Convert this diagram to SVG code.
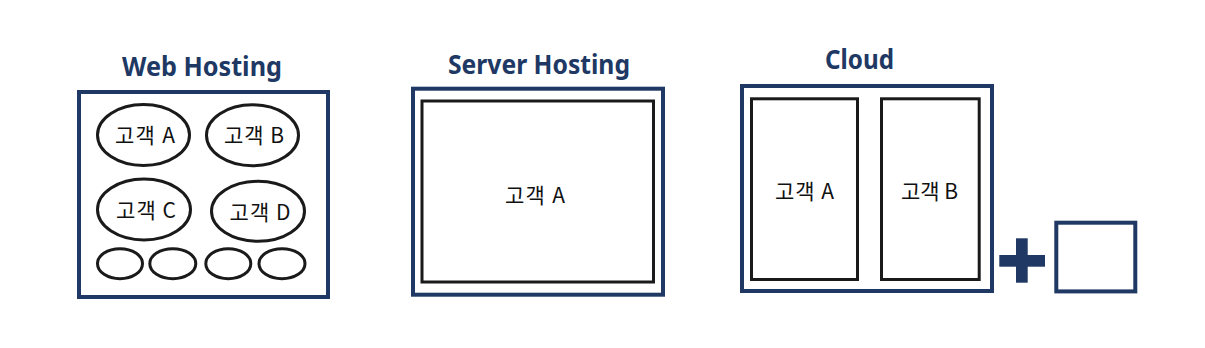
<svg xmlns="http://www.w3.org/2000/svg" width="1205" height="348" viewBox="0 0 1205 348">
<style>
.title{font-family:"Noto Sans","Liberation Sans",sans-serif;font-weight:bold;font-size:26px;fill:#203864;text-anchor:middle}
.lbl{font-family:"Noto Sans CJK KR","Noto Sans",sans-serif;font-size:21px;fill:#111;text-anchor:middle}
.outer{fill:#fff;stroke:#203864;stroke-width:4}
.inner{fill:#fff;stroke:#1a1a1a;stroke-width:3}
</style>
<rect width="1205" height="348" fill="#fff"/>
<g id="web-hosting">
<text class="title" x="202" y="76" textLength="160" lengthAdjust="spacingAndGlyphs">Web Hosting</text>
<rect class="outer" x="79" y="92" width="249" height="205"/>
<g id="web-a"><ellipse class="inner" cx="143.5" cy="135" rx="46" ry="30.5"/><text class="lbl" x="145" y="143" textLength="60" lengthAdjust="spacing">고객 A</text></g>
<g id="web-b"><ellipse class="inner" cx="252.5" cy="135.3" rx="46" ry="30.5"/><text class="lbl" x="254" y="143" textLength="60" lengthAdjust="spacing">고객 B</text></g>
<g id="web-c"><ellipse class="inner" cx="144" cy="209.5" rx="46.5" ry="30.5"/><text class="lbl" x="146" y="218" textLength="60" lengthAdjust="spacing">고객 C</text></g>
<g id="web-d"><ellipse class="inner" cx="258" cy="211.3" rx="46.5" ry="30"/><text class="lbl" x="260" y="220" textLength="61" lengthAdjust="spacing">고객 D</text></g>
<g id="web-e1"><ellipse class="inner" cx="120" cy="263.7" rx="22.5" ry="15"/></g>
<g id="web-e2"><ellipse class="inner" cx="172.8" cy="263.7" rx="23" ry="15"/></g>
<g id="web-e3"><ellipse class="inner" cx="228.3" cy="263.7" rx="22.5" ry="15"/></g>
<g id="web-e4"><ellipse class="inner" cx="282" cy="263.7" rx="23" ry="15"/></g>
</g>
<g id="server-hosting">
<text class="title" x="539" y="74" textLength="182" lengthAdjust="spacingAndGlyphs">Server Hosting</text>
<rect class="outer" x="413" y="88.7" width="250" height="206"/>
<g id="server-a"><rect class="inner" x="422" y="101" width="231.5" height="181"/><text class="lbl" x="535" y="203" textLength="60" lengthAdjust="spacing">고객 A</text></g>
</g>
<g id="cloud">
<text class="title" x="859.5" y="69" textLength="69" lengthAdjust="spacingAndGlyphs">Cloud</text>
<rect class="outer" x="742" y="86" width="250" height="205"/>
<g id="cloud-a"><rect class="inner" x="751.5" y="98.8" width="106" height="180.7"/><text class="lbl" x="804.5" y="199" textLength="59" lengthAdjust="spacing">고객 A</text></g>
<g id="cloud-b"><rect class="inner" x="881.5" y="98.8" width="97.7" height="180.7"/><text class="lbl" x="929.5" y="199" textLength="57" lengthAdjust="spacing">고객 B</text></g>
</g>
<g id="plus">
<rect x="999.3" y="255" width="45.7" height="11.7" fill="#203864"/>
<rect x="1016" y="238.3" width="11.7" height="44.4" fill="#203864"/>
</g>
<g id="extra-box"><rect class="outer" x="1056.3" y="222.7" width="79" height="68.7"/></g>
<g id="connectors"/>
</svg>
